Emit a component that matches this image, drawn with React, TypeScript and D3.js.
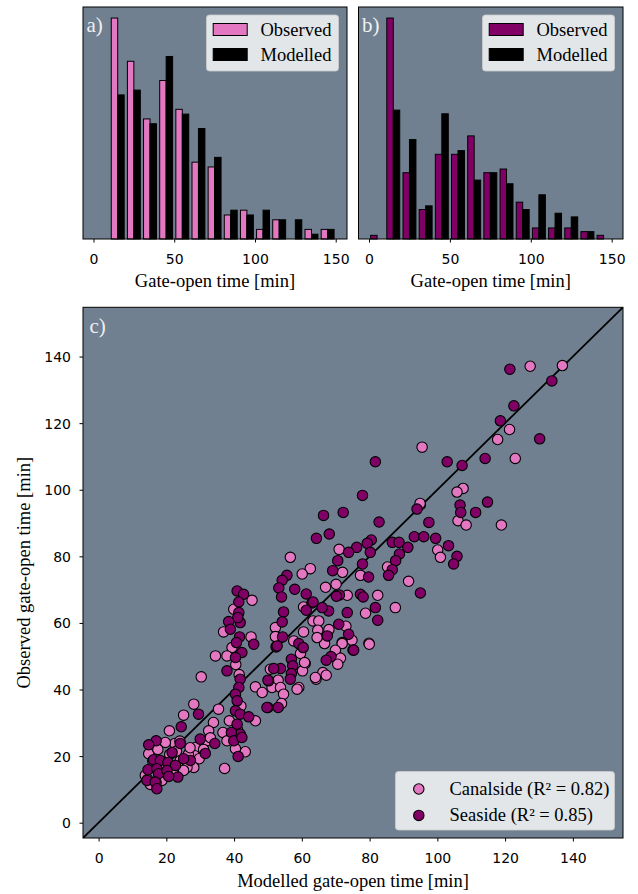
import React, { useRef, useEffect } from 'react';
import * as d3 from 'd3';

// histogram bins (10 min wide), counts read off panels a) and b)
const binStarts = [0, 10, 20, 30, 40, 50, 60, 70, 80, 90, 100, 110, 120, 130, 140];
const canalObserved = [0, 46, 37, 25, 33, 27, 16, 15, 5, 6, 2, 4, 0, 2, 2];
const canalModelled = [0, 30, 31, 24, 38, 26, 23, 17, 6, 5, 6, 4, 4, 1, 2];
const seaObserved = [1, 60, 18, 8, 23, 23, 28, 18, 19, 10, 3, 3, 3, 2, 1];
const seaModelled = [0, 35, 27, 9, 34, 24, 16, 18, 15, 8, 12, 7, 6, 2, 0];

const histTicks = [0, 50, 100, 150];
const scatterTicks = [0, 20, 40, 60, 80, 100, 120, 140];

// [modelled, observed] gate-open times in minutes
const canalsidePoints = [
  [127.4, 137.1], [136.9, 137.3], [121.3, 118.1], [117.8, 115.1], [95.5, 112.8], [123, 109.4],
  [107.6, 100.4], [105.8, 99.3], [106.1, 90.7], [108.5, 89.4], [118.9, 89.4], [95, 95.5],
  [94.9, 95.9], [100.1, 81.9], [100.9, 79.7], [71, 82.1], [72, 75.2], [62.5, 76.3], [60.1, 74.7],
  [77.3, 74.3], [85.3, 76.8], [91.5, 72.5], [67, 70.7], [70.1, 71.6], [73.4, 68.3], [82.4, 68.3],
  [87.6, 64.6], [78.8, 62.9], [74.8, 54.8], [71.9, 54.1], [70.9, 49.6], [79.8, 53.9], [73, 59],
  [68, 58], [66.7, 53.8], [71.9, 53.8], [79.9, 53.6], [69.9, 51.8], [71.4, 49.4], [70.6, 47.6],
  [66.2, 45.1], [67.2, 44.3], [64.2, 43.1], [59.6, 50.8], [61, 47.8], [60.2, 45.6], [60.8, 48.1],
  [64, 43.6], [59.1, 40.6], [58.6, 40.1], [50.7, 46.1], [53, 42.8], [51.2, 40.6], [53.7, 40.6],
  [54.6, 38.6], [54, 35.8], [56.6, 79.7], [60.5, 64.8], [63.3, 60.6], [65, 60.6], [60.5, 57.3],
  [64.7, 57.8], [64.5, 55.6], [52.2, 58.6], [52.2, 55.9], [57.6, 54.6], [45.3, 66.8], [39.9, 64.1],
  [36.9, 57.3], [45, 55.8], [39.4, 52.6], [34.5, 50.1], [37.9, 50.1], [40.5, 47.5], [41.5, 44.5],
  [42, 35], [41, 28], [30.3, 43.8], [46.3, 40.8], [48.3, 39.1], [50.2, 42.6], [46.3, 30.6],
  [38.6, 30.6], [35.4, 34.1], [33.9, 30.1], [36.7, 27.1], [32.5, 27.6], [32, 24.6], [28.1, 35.6],
  [25.1, 32.3], [20.9, 27.6], [37.9, 24.6], [40.4, 22.2], [43.3, 21.3], [37.2, 16.3], [28.6, 22.6],
  [28.4, 20.1], [29.7, 19.2], [28.1, 16.6], [22.5, 23.8], [19.7, 24.1], [14.8, 20.7], [24.1, 18.7],
  [26.1, 16.6], [13.8, 14.2], [19.7, 14.2], [25.1, 15.7], [15.3, 11.5], [18.7, 12.7], [16, 18.5],
  [21, 20.5], [23, 21.5], [17.5, 22], [26.5, 20.5], [14.5, 13], [17, 12], [22, 16], [20, 17],
  [24, 24.5], [27, 22.5], [31, 22], [33, 25.5]
];

const seasidePoints = [
  [121.4, 136.2], [133.8, 132.7], [122.6, 125.2], [118.6, 120.7], [130.2, 115.3], [102.9, 108.4],
  [107.3, 107.3], [114.1, 109.4], [114.8, 96.3], [106.7, 95.4], [106.9, 93.2], [111.3, 93.2],
  [97.5, 90.2], [81.7, 108.4], [77.9, 98.3], [66.4, 92.3], [72.2, 93.2], [82.8, 90.3], [94, 94.2],
  [64.3, 85.4], [68.1, 86.7], [93.2, 85.9], [96, 85.9], [99.5, 85.4], [103.3, 83.2], [105.8, 80],
  [104.8, 77.7], [80.5, 84.9], [79.3, 83.9], [80.2, 81.2], [76.2, 82.7], [73.8, 81.2], [70.6, 78.7],
  [69.1, 75.7], [77.9, 77.7], [79.7, 73.8], [86.7, 84.2], [88.7, 84.2], [91.3, 82.7], [88.8, 80.7],
  [87.7, 78.7], [86.7, 76], [85.6, 74.3], [95, 69], [61.3, 68.7], [71.1, 68.4], [77.3, 68.6],
  [78.1, 67.8], [70.2, 68], [81.7, 64.6], [82.4, 60.8], [73.4, 63.1], [67.9, 63.6], [63, 66],
  [70.9, 59.6], [73.8, 56.6], [75.1, 51.9], [52.4, 52.8], [59.1, 53.8], [60.4, 52.6], [75.3, 51.8],
  [68.6, 49.9], [67.2, 48.8], [56.9, 49.1], [57.3, 47.1], [56.9, 44.8], [56.6, 43.1], [53.7, 46.3],
  [51.7, 46.3], [50, 42.8], [53, 34.6], [50, 34.6], [55.6, 74.3], [54.2, 72.8], [53.2, 70.5],
  [57.9, 70.1], [54, 67.8], [63.3, 66.3], [66, 64.6], [61.3, 63.8], [54.6, 63.3], [54.2, 60.3],
  [67.5, 56.1], [54.3, 55.8], [52.7, 53.1], [40.9, 69.6], [42.8, 68.6], [41.4, 66.3], [41.4, 63.1],
  [41.8, 60.1], [41.1, 61.6], [38.4, 60.4], [38.9, 58.1], [41.6, 55.8], [40.7, 54.1], [45.8, 53.6],
  [42.3, 51.1], [40.4, 49.6], [37.9, 45.6], [41.8, 43.1], [41.4, 40.6], [40.4, 38.6], [49.7, 34.6],
  [40.9, 36.6], [40.4, 33.6], [41.8, 32.6], [44.3, 31.8], [40.9, 29.6], [29.5, 32.6], [24.4, 28.8],
  [41.8, 26.6], [39.2, 27.1], [39.9, 24.6], [42.3, 25.6], [41.2, 19.9], [34.3, 23.8], [30, 25.1],
  [31.5, 20.8], [27.1, 18.7], [24.1, 23.8], [17, 24.6], [14.8, 23.4], [21.7, 21.1], [16.2, 18.9],
  [18.2, 18.7], [20.5, 18.1], [25.1, 19.2], [22.7, 17.2], [14.6, 15.9], [17.2, 16.2], [17.7, 14.7],
  [20.2, 15.7], [23.4, 13.7], [14.3, 12.7], [16.7, 12.2], [17.2, 10.2], [20.7, 13.9]
];

const PINK = '#e377c2';
const PURPLE = '#800066';
const AXES_BG = '#708090';
const SERIF = '"Liberation Serif", "Times New Roman", serif';
const SANS = '"DejaVu Sans", sans-serif';

const App = () => {
  const svgRef = useRef(null);

  useEffect(() => {
    const svg = d3.select(svgRef.current);
    svg.selectAll('*').remove();

    const panelLabel = (g, text, left, top) => {
      g.append('text')
        .attr('x', left + 3.5)
        .attr('y', top + 25)
        .attr('font-family', SERIF)
        .attr('font-size', 21)
        .attr('fill', '#f0f0f0')
        .text(text);
    };

    const legendBox = (g, x, y, w, h) => {
      g.append('rect')
        .attr('x', x)
        .attr('y', y)
        .attr('width', w)
        .attr('height', h)
        .attr('rx', 3)
        .attr('fill', 'rgba(255,255,255,0.8)')
        .attr('stroke', 'rgba(204,204,204,0.8)');
    };

    const drawHist = (box, observed, modelled, obsColor, tag) => {
      const { left, right, top, bottom } = box;
      const g = svg.append('g');
      const x = d3.scaleLinear().domain([-6.5, 157]).range([left, right]);
      const yMax = d3.max(observed.concat(modelled)) * 1.05;
      const y = d3.scaleLinear().domain([0, yMax]).range([bottom, top]);

      g.append('rect')
        .attr('x', left)
        .attr('y', top)
        .attr('width', right - left)
        .attr('height', bottom - top)
        .attr('fill', AXES_BG);

      // two bars per bin, 80% of the bin width shared between them
      const series = [
        { values: observed, color: obsColor, offset: 1 },
        { values: modelled, color: '#000', offset: 5 }
      ];
      series.forEach(s => {
        g.selectAll(null)
          .data(binStarts.map((b, i) => ({ b, v: s.values[i] })).filter(d => d.v > 0))
          .join('rect')
          .attr('x', d => x(d.b + s.offset))
          .attr('width', d => x(d.b + s.offset + 4) - x(d.b + s.offset))
          .attr('y', d => y(d.v))
          .attr('height', d => y(0) - y(d.v))
          .attr('fill', s.color)
          .attr('stroke', '#000')
          .attr('stroke-width', 1);
      });

      g.append('rect')
        .attr('x', left)
        .attr('y', top)
        .attr('width', right - left)
        .attr('height', bottom - top)
        .attr('fill', 'none')
        .attr('stroke', '#000')
        .attr('stroke-width', 1);

      const xAxis = g.append('g')
        .attr('transform', `translate(0, ${bottom})`)
        .call(d3.axisBottom(x).tickValues(histTicks).tickSize(3.5).tickSizeOuter(0));
      xAxis.select('.domain').remove();
      xAxis.selectAll('text')
        .attr('y', 24.5)
        .attr('dy', 0)
        .attr('font-family', SANS)
        .attr('font-size', 14)
        .attr('fill', '#000');

      g.append('text')
        .attr('x', (left + right) / 2)
        .attr('y', bottom + 47.5)
        .attr('text-anchor', 'middle')
        .attr('font-family', SERIF)
        .attr('font-size', 18.5)
        .text('Gate-open time [min]');

      panelLabel(g, tag, left, top);

      const lw = 132;
      const lx = right - 8.5 - lw;
      const ly = top + 8;
      legendBox(g, lx, ly, lw, 56);
      [
        { label: 'Observed', color: obsColor },
        { label: 'Modelled', color: '#000' }
      ].forEach((item, i) => {
        const cy = ly + 14.5 + i * 25;
        g.append('rect')
          .attr('x', lx + 6.7)
          .attr('y', cy - 6)
          .attr('width', 34)
          .attr('height', 12)
          .attr('fill', item.color)
          .attr('stroke', '#000')
          .attr('stroke-width', 1);
        g.append('text')
          .attr('x', lx + 54)
          .attr('y', cy + 6)
          .attr('font-family', SERIF)
          .attr('font-size', 18.5)
          .text(item.label);
      });
    };

    drawHist({ left: 83, right: 347, top: 7, bottom: 239 }, canalObserved, canalModelled, PINK, 'a)');
    drawHist({ left: 358.5, right: 623, top: 7, bottom: 239 }, seaObserved, seaModelled, PURPLE, 'b)');

    // scatter panel c)
    const box = { left: 83, right: 623, top: 307.3, bottom: 838 };
    const g = svg.append('g');
    const x = d3.scaleLinear().domain([-4.6, 154.8]).range([box.left, box.right]);
    const y = d3.scaleLinear().domain([-4.6, 154.8]).range([box.bottom, box.top]);

    g.append('defs')
      .append('clipPath')
      .attr('id', 'clip-c')
      .append('rect')
      .attr('x', box.left)
      .attr('y', box.top)
      .attr('width', box.right - box.left)
      .attr('height', box.bottom - box.top);

    g.append('rect')
      .attr('x', box.left)
      .attr('y', box.top)
      .attr('width', box.right - box.left)
      .attr('height', box.bottom - box.top)
      .attr('fill', AXES_BG);

    const plot = g.append('g').attr('clip-path', 'url(#clip-c)');

    // 1:1 line
    plot.append('path')
      .datum([-10, 160])
      .attr('d', d3.line().x(d => x(d)).y(d => y(d)))
      .attr('stroke', '#000')
      .attr('stroke-width', 1.8)
      .attr('fill', 'none');

    [
      { pts: canalsidePoints, color: PINK },
      { pts: seasidePoints, color: PURPLE }
    ].forEach(s => {
      plot.selectAll(null)
        .data(s.pts)
        .join('circle')
        .attr('cx', d => x(d[0]))
        .attr('cy', d => y(d[1]))
        .attr('r', 5.2)
        .attr('fill', s.color)
        .attr('stroke', '#000')
        .attr('stroke-width', 1.1);
    });

    g.append('rect')
      .attr('x', box.left)
      .attr('y', box.top)
      .attr('width', box.right - box.left)
      .attr('height', box.bottom - box.top)
      .attr('fill', 'none')
      .attr('stroke', '#000')
      .attr('stroke-width', 1);

    const xAxis = g.append('g')
      .attr('transform', `translate(0, ${box.bottom})`)
      .call(d3.axisBottom(x).tickValues(scatterTicks).tickSize(3.5).tickSizeOuter(0));
    xAxis.select('.domain').remove();
    xAxis.selectAll('text')
      .attr('y', 25.3)
      .attr('dy', 0)
      .attr('font-family', SANS)
      .attr('font-size', 14)
      .attr('fill', '#000');

    const yAxis = g.append('g')
      .attr('transform', `translate(${box.left}, 0)`)
      .call(d3.axisLeft(y).tickValues(scatterTicks).tickSize(3.5).tickSizeOuter(0));
    yAxis.select('.domain').remove();
    yAxis.selectAll('text')
      .attr('x', -12)
      .attr('dy', '0.36em')
      .attr('font-family', SANS)
      .attr('font-size', 14)
      .attr('fill', '#000');

    g.append('text')
      .attr('x', (box.left + box.right) / 2)
      .attr('y', box.bottom + 48.5)
      .attr('text-anchor', 'middle')
      .attr('font-family', SERIF)
      .attr('font-size', 18.5)
      .text('Modelled gate-open time [min]');

    g.append('text')
      .attr('transform', `translate(30, ${(box.top + box.bottom) / 2}) rotate(-90)`)
      .attr('text-anchor', 'middle')
      .attr('font-family', SERIF)
      .attr('font-size', 18.5)
      .text('Observed gate-open time [min]');

    panelLabel(g, 'c)', box.left + 3, box.top + 1);

    const lw = 219;
    const lx = box.right - 8.5 - lw;
    const ly = box.bottom - 8 - 58.5;
    legendBox(g, lx, ly, lw, 58.5);
    [
      { label: 'Canalside (R² = 0.82)', color: PINK },
      { label: 'Seaside (R² = 0.85)', color: PURPLE }
    ].forEach((item, i) => {
      const cy = ly + 17.5 + i * 26.4;
      g.append('circle')
        .attr('cx', lx + 23.3)
        .attr('cy', cy)
        .attr('r', 5.2)
        .attr('fill', item.color)
        .attr('stroke', '#000')
        .attr('stroke-width', 1.1);
      g.append('text')
        .attr('x', lx + 54)
        .attr('y', cy + 6)
        .attr('font-family', SERIF)
        .attr('font-size', 18.5)
        .text(item.label);
    });
  }, []);

  return (
    <svg
      ref={svgRef}
      width={638}
      height={894}
      style={{ position: 'absolute', left: 0, top: 0, background: '#fff' }}
    />
  );
};

export default App;
